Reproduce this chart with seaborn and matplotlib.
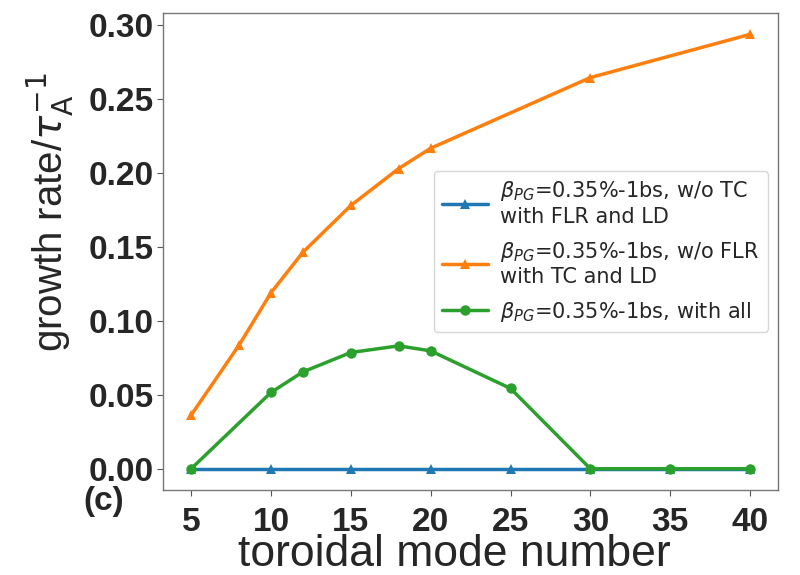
import matplotlib
matplotlib.use("Agg")
import matplotlib.pyplot as plt
import seaborn as sns
import pandas as pd

# ---- data ----
n_blue = [5, 10, 15, 20, 25, 30, 35, 40]
g_blue = [0, 0, 0, 0, 0, 0, 0, 0]

n_orange = [5, 8, 10, 12, 15, 18, 20, 30, 40]
g_orange = [0.0363, 0.0836, 0.119, 0.1464, 0.178, 0.203, 0.2167, 0.2645, 0.2937]

n_green = [5, 10, 12, 15, 18, 20, 25, 30, 35, 40]
g_green = [0.0, 0.0516, 0.0655, 0.0786, 0.0831, 0.0797, 0.0543, 0.0, 0.0, 0.0]

labels = [
    r"$\beta_{PG}$=0.35%-1bs, w/o TC" + "\nwith FLR and LD",
    r"$\beta_{PG}$=0.35%-1bs, w/o FLR" + "\nwith TC and LD",
    r"$\beta_{PG}$=0.35%-1bs, with all",
]
xticks = [5, 10, 15, 20, 25, 30, 35, 40]
yticks = [0.00, 0.05, 0.10, 0.15, 0.20, 0.25, 0.30]

sns.set_theme(style="ticks")
plt.rcParams["font.family"] = ["DejaVu Sans"]

fig = plt.figure(figsize=(8, 5.75), dpi=100)
ax = fig.add_axes([0.204, 0.147, 0.7685, 0.831])

colors = ["#1f77b4", "#ff7f0e", "#2ca02c"]
series = [(n_blue, g_blue, "^"), (n_orange, g_orange, "^"), (n_green, g_green, "o")]
for (xs, ys, mk), c, lab in zip(series, colors, labels):
    df = pd.DataFrame({"n": xs, "g": ys})
    sns.lineplot(data=df, x="n", y="g", ax=ax, color=c, marker=mk,
                 markersize=7.5 if mk == "o" else 7, markeredgewidth=0,
                 linewidth=2.5, label=lab)

ax.set_xticks(xticks)
ax.set_yticks(yticks)
ax.set_xticklabels([str(t) for t in xticks], fontfamily="Liberation Sans",
                   fontweight="bold", fontsize=24)
ax.set_yticklabels([f"{t:.2f}" for t in yticks], fontfamily="Liberation Sans",
                   fontweight="bold", fontsize=24)
ax.tick_params(axis="both", length=4, width=0.8, color="#555555", pad=3)
ax.tick_params(axis="x", pad=8)
for s in ax.spines.values():
    s.set_color("#777777")
    s.set_linewidth(1.0)

ax.set_xlabel("toroidal mode number", fontfamily="Liberation Sans", fontsize=32)
ax.xaxis.set_label_coords(0.473, -0.092)
ax.set_ylabel(r"growth rate/$\tau_\mathrm{A}^{-1}$", fontfamily="Liberation Sans",
              fontsize=29)
ax.yaxis.set_label_coords(-0.142, 0.583)

leg = ax.legend(loc="center right", fontsize=15, handlelength=2.2,
                borderaxespad=0.5, labelspacing=0.62, handletextpad=0.6)

fig.text(0.13, 0.128, "(c)", fontfamily="Liberation Sans", fontweight="bold",
         fontsize=24, ha="center", va="center")

fig.savefig("out.png", dpi=100)
